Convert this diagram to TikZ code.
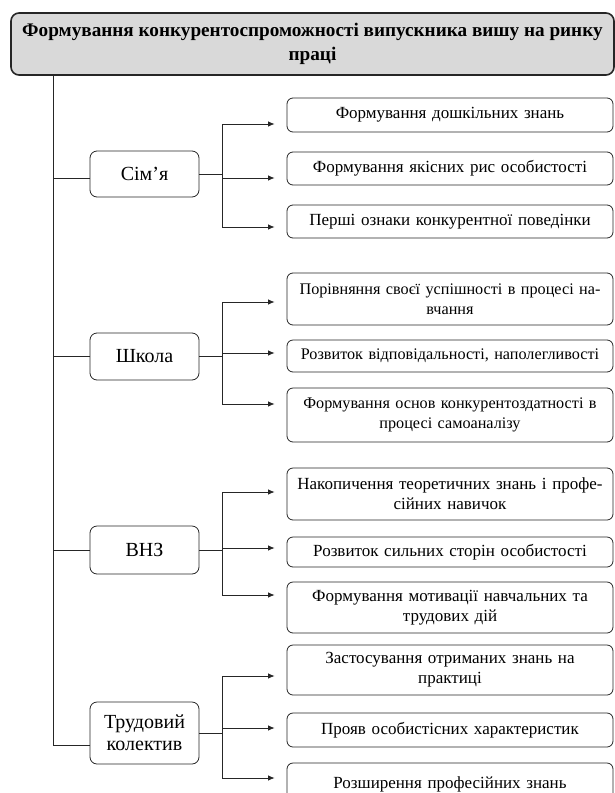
\documentclass[tikz,border=0pt]{standalone}
\usepackage{fontspec}
\setmainfont{Liberation Serif}
\usetikzlibrary{arrows.meta}
\begin{document}
\begin{tikzpicture}[x=1pt,y=-1pt,
  ln/.style={line width=0.8pt,draw=black!85},
  arr/.style={ln,-{Latex[length=6.5pt,width=5.5pt]}},
  titlebox/.style={draw=black!85,line width=1.6pt,rounded corners=8pt,fill=black!15,
    minimum width=603pt,minimum height=62pt,align=center,inner sep=0pt,
    font=\bfseries\fontsize{19.2}{24.5}\selectfont},
  catbox/.style={draw=black!85,line width=0.8pt,rounded corners=7pt,
    minimum width=109pt,align=center,inner sep=0pt,
    font=\fontsize{20}{22}\selectfont},
  itembox/.style={draw=black!85,line width=0.8pt,rounded corners=6pt,
    minimum width=326pt,text width=320pt,align=center,inner sep=0pt,
    font=\fontsize{17}{20}\selectfont},
  narrow/.style={font=\fontsize{16.2}{20}\selectfont}
]
\useasboundingbox (0,0) rectangle (615,793);

\node[titlebox] (title) at (312.5,44) {Формування конкурентоспроможності випускника вишу на ринку\\праці};
\coordinate (tk) at (53,75);

% level 1
\node[catbox,minimum height=46pt] (sim) at (144.5,174) {Сім’я};
\node[catbox,minimum height=47pt] (shk) at (144.5,356.5) {Школа};
\node[catbox,minimum height=48pt] (vnz) at (144.5,550) {ВНЗ};
\node[catbox,minimum height=62pt] (trd) at (144.5,733) {Трудовий\\колектив};

% items
\node[itembox,minimum height=34pt] (s1) at (450,115) {Формування дошкільних знань};
\node[itembox,minimum height=33pt] (s2) at (450,168.5) {Формування якісних рис особистості};
\node[itembox,minimum height=33pt] (s3) at (450,221.5) {Перші ознаки конкурентної поведінки};

\node[itembox,narrow,minimum height=52pt] (h1) at (450,299) {Порівняння своєї успішності в процесі на-\\вчання};
\node[itembox,narrow,minimum height=32pt] (h2) at (450,356) {Розвиток відповідальності, наполегливості};
\node[itembox,narrow,minimum height=54pt] (h3) at (450,415) {Формування основ конкурентоздатності в\\процесі самоаналізу};

\node[itembox,minimum height=52pt] (v1) at (450,494) {Накопичення теоретичних знань і профе-\\сійних навичок};
\node[itembox,minimum height=30pt] (v2) at (450,552) {Розвиток сильних сторін особистості};
\node[itembox,minimum height=51pt] (v3) at (450,607.5) {Формування мотивації навчальних та\\трудових дій};

\node[itembox,minimum height=50pt] (t1) at (450,670) {Застосування отриманих знань на\\практиці};
\node[itembox,minimum height=34pt] (t2) at (450,730) {Прояв особистісних характеристик};
\node[itembox,minimum height=42pt] (t3) at (450,784) {Розширення професійних знань};

% trunk
\draw[ln] (tk) |- ([yshift=-12pt]trd.west);
\draw[ln] ([yshift=-4pt]sim.west) -- ([yshift=-4pt]sim.west -| tk);
\draw[ln] (shk.west) -- (shk.west -| tk);
\draw[ln] (vnz.west) -- (vnz.west -| tk);

% branches
\draw[arr] (sim.east) -- ++(23,0) |- ([xshift=-12pt,yshift=-9pt]s1.west);
\draw[arr] (sim.east) -- ++(23,0) |- ([xshift=-12pt,yshift=-9.5pt]s2.west);
\draw[arr] (sim.east) -- ++(23,0) |- ([xshift=-12pt,yshift=-5.5pt]s3.west);

\draw[arr] (shk.east) -- ++(23,0) |- ([xshift=-12pt,yshift=-3pt]h1.west);
\draw[arr] (shk.east) -- ++(23,0) |- ([xshift=-12pt,yshift=3pt]h2.west);
\draw[arr] (shk.east) -- ++(23,0) |- ([xshift=-12pt,yshift=11pt]h3.west);

\draw[arr] (vnz.east) -- ++(23,0) |- ([xshift=-12pt,yshift=2pt]v1.west);
\draw[arr] (vnz.east) -- ++(23,0) |- ([xshift=-12pt,yshift=4pt]v2.west);
\draw[arr] (vnz.east) -- ++(23,0) |- ([xshift=-12pt,yshift=12.5pt]v3.west);

\draw[arr] (trd.east) -- ++(23,0) |- ([xshift=-12pt,yshift=-6pt]t1.west);
\draw[arr] (trd.east) -- ++(23,0) |- ([xshift=-12pt,yshift=2pt]t2.west);
\draw[arr] (trd.east) -- ++(23,0) |- ([xshift=-12pt,yshift=6pt]t3.west);
\end{tikzpicture}
\end{document}
